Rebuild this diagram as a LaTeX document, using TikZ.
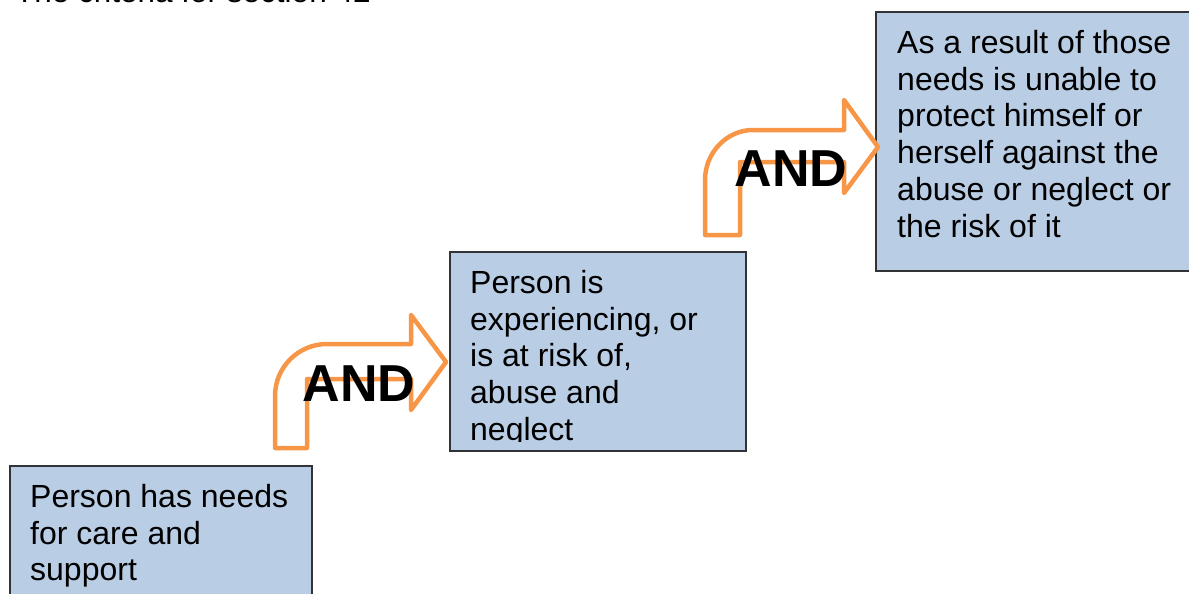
\documentclass[tikz,border=0pt]{standalone}
\usepackage{fontspec}
\setmainfont{Liberation Sans}
\begin{document}
\begin{tikzpicture}[x=1pt,y=-1pt,
  box/.style={draw=boxline,fill=boxfill,line width=1.2pt},
  bodytext/.style={anchor=north west,inner sep=0pt,align=left,text=black,
    font=\fontsize{32}{36.8}\selectfont},
  andtext/.style={inner sep=0pt,font=\bfseries\fontsize{52}{60}\selectfont,text=black},
  bentarrow/.style={draw=arroworange,line width=4.5pt,line join=round}]
\definecolor{boxfill}{RGB}{185,205,229}
\definecolor{boxline}{RGB}{50,50,55}
\definecolor{arroworange}{RGB}{247,150,70}
\useasboundingbox (0,0) rectangle (1189,594);

% title (cut off at top, as in the reference)
\node[anchor=base west,inner sep=0pt,font=\fontsize{31.5}{36}\selectfont] (title) at (15,3) {The criteria for section 42};

% boxes
\draw[box] (10,466) rectangle (312,620);
\draw[box] (450,252) rectangle (746,451);
\draw[box] (876,12) rectangle (1200,271);

% box texts
\node[bodytext] (t1) at (30,484) {Person has needs\\for care and\\support};
\begin{scope}
\clip (450,252) rectangle (746,441);
\node[bodytext] (t2) at (470,270) {Person is\\experiencing, or\\is at risk of,\\abuse and\\neglect};
\end{scope}
\node[bodytext] (t3) at (897,30) {As a result of those\\needs is unable to\\protect himself or\\herself against the\\abuse or neglect or\\the risk of it};

% bent arrows
\draw[bentarrow] (275,448) -- (275,396) .. controls (275,367.3) and (298.3,344) .. (327,344)
  -- (411,344) -- (411,315) -- (446,362) -- (411,410) -- (411,379) -- (307,379) -- (307,448) -- cycle;
\draw[bentarrow] (705,235) -- (705,180) .. controls (705,153) and (726.5,130) .. (753,130)
  -- (844,130) -- (844,100) -- (878,147) -- (844,193) -- (844,162) -- (740,162) -- (740,235) -- cycle;

% AND labels
\node[andtext] (and1) at (359,384) {AND};
\node[andtext] (and2) at (791,169) {AND};
\end{tikzpicture}
\end{document}
